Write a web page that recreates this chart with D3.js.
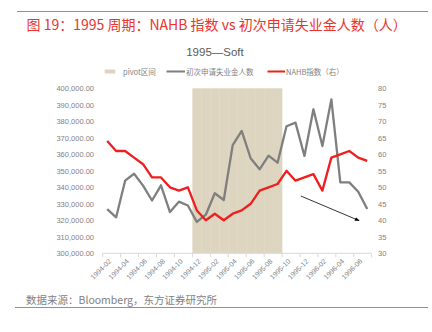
<!DOCTYPE html>
<html><head><meta charset="utf-8">
<script src="https://cdn.jsdelivr.net/npm/d3@7/dist/d3.min.js"></script>
<style>
html,body{margin:0;padding:0;background:#fff;}
svg{display:block;font-family:"Noto Sans CJK SC","Liberation Sans",sans-serif;}
</style></head>
<body><svg id="c" width="432" height="332"></svg>
<script>
const months = ["1994-02","1994-03","1994-04","1994-05","1994-06","1994-07","1994-08","1994-09","1994-10","1994-11","1994-12",
"1995-01","1995-02","1995-03","1995-04","1995-05","1995-06","1995-07","1995-08","1995-09","1995-10","1995-11","1995-12",
"1996-01","1996-02","1996-03","1996-04","1996-05","1996-06","1996-07"];
const tickLabels = ["1994-02","1994-04","1994-06","1994-08","1994-10","1994-12","1995-02","1995-04","1995-06","1995-08","1995-10","1995-12","1996-02","1996-04","1996-06"];
const claims = [326800,321800,344000,348200,341000,332000,341200,325000,331300,329000,319000,323400,336400,332300,365600,374200,357600,350900,359200,354900,377000,379200,359000,387300,365000,393300,343000,343000,337300,326800];
const nahb = [64,61,61,59,57,53,53,50,49,50,43,40,42,40,42,43,45,49,50,51,55,52,53,54,49,59,60,61,59,58];
const pivotMonths = ["1994-12","1995-01","1995-02","1995-03","1995-04","1995-05","1995-06","1995-07","1995-08","1995-09"];
const pivotValue = 400000;
const leftTicks = [300000,310000,320000,330000,340000,350000,360000,370000,380000,390000,400000];
const rightTicks = [30,35,40,45,50,55,60,65,70,75,80];
const arrowFrom = {i:21.6, v:334700};
const arrowTo = {i:28.1, v:319800};

const svg = d3.select("#c");
const RED = "#e8342c";
const x = d3.scaleBand().domain(months).range([102.7,371.7]).padding(0);
const yL = d3.scaleLinear().domain([300000,400000]).range([253.3,88.3]);
const yR = d3.scaleLinear().domain([30,80]).range([253.3,88.3]);
const cx = m => x(m) + x.bandwidth()/2;
const xi = d3.scaleLinear().domain([0, months.length-1]).range([cx(months[0]), cx(months[months.length-1])]);

// header / footer rules
svg.append("line").attr("x1",17).attr("x2",428).attr("y1",11.5).attr("y2",11.5).attr("stroke","#f06a60").attr("stroke-width",1);
svg.append("text").attr("x",26.5).attr("y",30).attr("fill",RED).attr("font-size",14).text("图 19：1995 周期：NAHB 指数 vs 初次申请失业金人数（人）");
svg.append("line").attr("x1",15).attr("x2",428).attr("y1",307.5).attr("y2",307.5).attr("stroke","#f06a60").attr("stroke-width",1);
svg.append("text").attr("x",26).attr("y",303.5).attr("fill","#7f7f7f").attr("font-size",10.5).text("数据来源：Bloomberg，东方证券研究所");

// chart title
svg.append("text").attr("x",215).attr("y",56).attr("text-anchor","middle").attr("fill","#595959").attr("font-size",11.5).attr("font-family","Liberation Sans, sans-serif").text("1995—Soft");

// pivot bars
svg.append("g").selectAll("rect").data(pivotMonths).join("rect")
  .attr("x",d=>x(d)).attr("width",x.bandwidth()+0.3)
  .attr("y",yL(pivotValue)).attr("height",yL(300000)-yL(pivotValue))
  .attr("fill","#ddd5bf");

// axes
const axL = svg.append("g").attr("transform","translate(96,0)")
  .call(d3.axisLeft(yL).tickValues(leftTicks).tickSize(0).tickFormat(d3.format(",.2f")));
axL.select(".domain").remove();
axL.selectAll("text").attr("fill","#7f7f7f").attr("font-size",7.5).attr("font-family","Liberation Sans, sans-serif").attr("x",-2);
const axR = svg.append("g").attr("transform","translate(376,0)")
  .call(d3.axisRight(yR).tickValues(rightTicks).tickSize(0));
axR.select(".domain").remove();
axR.selectAll("text").attr("fill","#7f7f7f").attr("font-size",7.5).attr("font-family","Liberation Sans, sans-serif").attr("x",2);

// x axis
const axB = svg.append("g").attr("transform",`translate(0,${yL(300000)})`);
axB.append("line").attr("x1",x.range()[0]).attr("x2",x.range()[1]).attr("stroke","#d9d9d9");
const tickEdges = tickLabels.map(m=>x(m)).concat([x.range()[1]]);
axB.selectAll("line.t").data(tickEdges).join("line").attr("class","t")
  .attr("x1",d=>d).attr("x2",d=>d).attr("y1",0).attr("y2",4).attr("stroke","#d9d9d9");
axB.selectAll("text").data(tickLabels).join("text")
  .attr("transform",d=>`translate(${cx(d)+1},${5}) rotate(-45)`)
  .attr("text-anchor","end").attr("dy","0.7em").attr("fill","#7f7f7f").attr("font-size",7)
  .attr("font-family","Liberation Sans, sans-serif").text(d=>d);

// lines
svg.append("path").datum(claims).attr("fill","none").attr("stroke","#7f7f7f").attr("stroke-width",2.3).attr("stroke-linejoin","round")
  .attr("d", d3.line().x((d,i)=>cx(months[i])).y(d=>yL(d)));
svg.append("path").datum(nahb).attr("fill","none").attr("stroke","#f01e1e").attr("stroke-width",2.3).attr("stroke-linejoin","round")
  .attr("d", d3.line().x((d,i)=>cx(months[i])).y(d=>yR(d)));

// arrow
svg.append("defs").append("marker").attr("id","ah").attr("viewBox","0 0 10 10").attr("refX",9).attr("refY",5)
  .attr("markerWidth",6).attr("markerHeight",6).attr("orient","auto")
  .append("path").attr("d","M0,1 L10,5 L0,9 z").attr("fill","#000");
svg.append("line").attr("x1",xi(arrowFrom.i)).attr("y1",yL(arrowFrom.v)).attr("x2",xi(arrowTo.i)).attr("y2",yL(arrowTo.v))
  .attr("stroke","#000").attr("stroke-width",0.8).attr("marker-end","url(#ah)");

// legend
const lg = svg.append("g").attr("font-size",7.5).attr("fill","#7f7f7f");
lg.append("rect").attr("x",104.7).attr("y",69.5).attr("width",10.5).attr("height",4).attr("fill","#ddd5bf");
lg.append("text").attr("x",123).attr("y",74.5).attr("fill","#7f7f7f").text("pivot区间");
lg.append("line").attr("x1",166.5).attr("x2",185).attr("y1",71.5).attr("y2",71.5).attr("stroke","#7f7f7f").attr("stroke-width",2);
lg.append("text").attr("x",186).attr("y",74.5).attr("fill","#7f7f7f").text("初次申请失业金人数");
lg.append("line").attr("x1",267.5).attr("x2",285).attr("y1",71.5).attr("y2",71.5).attr("stroke","#f01e1e").attr("stroke-width",2);
lg.append("text").attr("x",286).attr("y",74.5).attr("fill","#7f7f7f").text("NAHB指数（右）");
</script></body></html>
